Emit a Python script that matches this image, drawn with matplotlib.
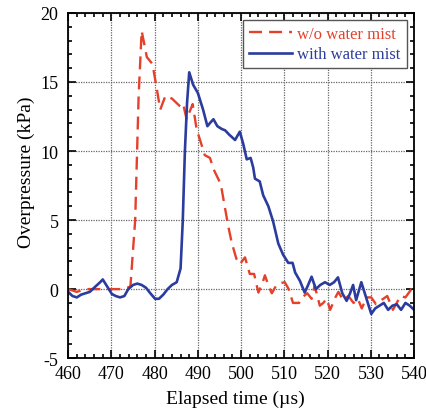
import numpy as np
import matplotlib
matplotlib.use('Agg')
import matplotlib.pyplot as plt
from matplotlib.ticker import MultipleLocator

# w/o water mist (red dashed)
t_dry = [460, 462, 464, 470, 473, 474.4, 475.5, 476.3, 477.0, 478.2, 479.5, 480.5, 481.3, 482.5,
         484, 486, 486.6, 487.4, 488.8, 489.7, 491.6, 492.8, 493.6, 495.3, 496.2, 497.0, 497.8,
         498.9, 499.7, 500.9, 502.0, 503.0, 504.0, 505.0, 505.5, 506.5, 507.1, 508.0, 508.6,
         510.1, 511.0, 512.0, 513.4, 514.1, 515.3, 516.3, 517.0, 518.2, 519.0, 519.8, 520.6,
         521.8, 522.5, 523.6, 524.8, 526.0, 527.0, 527.9, 529.0, 530.1, 531.2, 532.4, 533.8,
         535.1, 536.0, 536.8, 538.0, 539.4, 540]
p_dry = [0.0, -0.2, 0.0, 0.0, 0.0, 0.2, 5.0, 14.0, 18.7, 16.8, 16.3, 14.5, 13.0, 14.0,
         13.8, 13.2, 13.4, 12.3, 13.4, 11.6, 9.7, 9.5, 8.7, 7.6, 6.0, 4.6, 3.4,
         2.2, 1.8, 2.3, 1.1, 1.1, -0.25, 0.5, 1.0, 0.1, -0.3, 0.2, 0.4,
         0.5, 0.0, -1.0, -1.0, -0.6, -0.3, -0.7, 0.25, -1.2, -1.0, -0.7, -1.5,
         -0.6, -0.2, -0.8, -0.5, -1.0, -0.7, -1.4, -0.6, -0.6, -1.1, -0.8, -0.5,
         -1.5, -1.0, -0.5, -0.6, 0.0, -0.1]

# with water mist (blue solid)
t_wet = [460, 461, 462, 463, 464, 465, 466, 467.4, 468, 469, 470.1, 471, 472, 473, 473.9,
         475, 476, 477, 478, 479, 480.1, 481, 482, 483, 484, 485.1, 486, 486.5, 487, 487.5,
         488.0, 488.9, 490, 491.2, 492.2, 493, 493.6, 494.5, 495.5, 496.3, 497.2, 498.6,
         499.7, 500.5, 501.3, 502.2, 502.8, 503.2, 504.3, 505.1, 506.3, 507.4, 508.6, 509.7,
         510.9, 511.9, 512.5, 513.6, 514.7, 515.5, 516.3, 517.3, 518.3, 519.4, 520.5, 521.5,
         522.4, 523.4, 524.4, 525.2, 525.9, 526.6, 527.8, 528.8, 529.6, 530.1, 531, 532,
         533, 534, 535, 536, 537, 538, 539, 540]
p_wet = [-0.2, -0.5, -0.6, -0.4, -0.3, -0.2, 0.1, 0.5, 0.7, 0.2, -0.35, -0.5, -0.6, -0.5, 0.0,
         0.3, 0.4, 0.3, 0.1, -0.3, -0.7, -0.7, -0.4, 0.0, 0.3, 0.5, 1.5, 4.9, 10.0, 13.5,
         15.7, 14.8, 14.2, 13.0, 11.8, 12.1, 12.3, 11.8, 11.6, 11.5, 11.2, 10.8,
         11.4, 10.5, 9.4, 9.5, 8.8, 8.0, 7.8, 6.8, 6.0, 4.9, 3.3, 2.5,
         1.9, 1.9, 1.2, 0.6, -0.25, 0.3, 0.9, 0.0, 0.3, 0.5, 0.3, 0.5,
         0.85, -0.3, -0.85, -0.3, 0.3, -0.8, 0.5, -0.5, -1.3, -1.8, -1.4, -1.2,
         -1.0, -1.5, -1.2, -1.1, -1.5, -1.0, -1.2, -1.5]

plt.rcParams['font.family'] = ['Liberation Serif', 'DejaVu Serif']
plt.rcParams['axes.unicode_minus'] = False

fig = plt.figure(figsize=(4.26, 4.10), dpi=100)
ax = fig.add_axes([0.160, 0.124, 0.812, 0.842])

red = '#e5402a'
blue = '#2b3c9e'
ax.plot(t_dry, p_dry, color=red, lw=1.7, dashes=(5.5, 3), label='w/o water mist')
ax.plot(t_wet, p_wet, color=blue, lw=1.9, label='with water mist')

ax.set_xlim(460, 540)
ax.set_ylim(-5, 20)
ax.xaxis.set_major_locator(MultipleLocator(10))
ax.xaxis.set_minor_locator(MultipleLocator(2))
ax.yaxis.set_major_locator(MultipleLocator(5))
ax.yaxis.set_minor_locator(MultipleLocator(1))
ax.tick_params(which='both', direction='in', top=True, right=True, labelsize=13, width=1.2)
ax.tick_params(which='major', length=6)
ax.tick_params(which='minor', length=3)
ax.tick_params(axis='y', pad=7)
ax.tick_params(axis='x', pad=5)
ax.grid(True, which='major', color='#666666', ls=(0, (1, 1)), lw=0.9)
for s in ax.spines.values():
    s.set_linewidth(1.3)

ax.set_xlabel('Elapsed time (\u00b5s)', fontsize=14)
ax.set_ylabel('Overpressure (kPa)', fontsize=14)
ax.xaxis.set_label_coords(0.483, -0.09)
ax.yaxis.set_label_coords(-0.097, 0.54)

leg = ax.legend(loc='upper right', fontsize=12, frameon=True, fancybox=False,
                framealpha=1, edgecolor='#555555', handlelength=2.6, handletextpad=0.3,
                borderpad=0.35, labelspacing=0.25, borderaxespad=0.45)
leg.get_frame().set_linewidth(1.0)
for txt, c in zip(leg.get_texts(), [red, blue]):
    txt.set_color(c)

fig.savefig('out.png', dpi=100)
